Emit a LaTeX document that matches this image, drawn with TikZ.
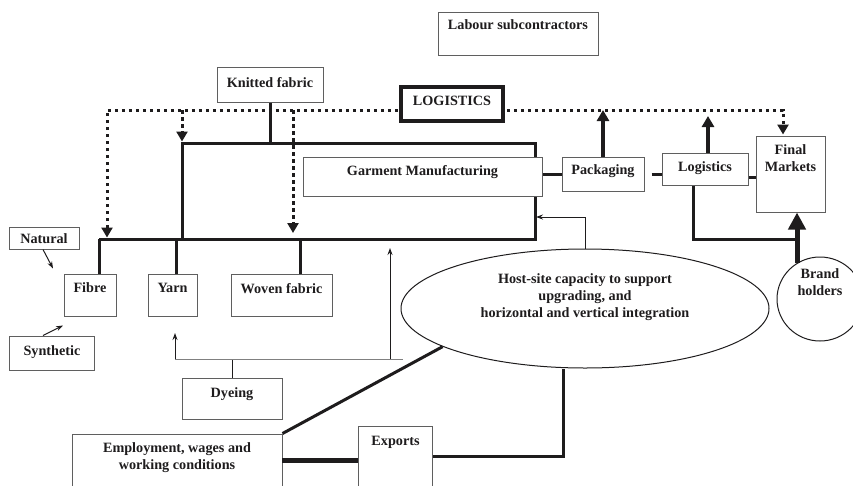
\documentclass[tikz,border=0pt]{standalone}
\usepackage{fontspec}
\setmainfont{Liberation Serif}
\usetikzlibrary{arrows.meta,shapes.geometric,calc}
\definecolor{boxgray}{RGB}{95,95,95}
\definecolor{ink}{RGB}{30,28,29}
\newcommand{\lbl}{\fontsize{14.2}{17}\selectfont\bfseries}
\newcommand{\tbox}[4]{\parbox[c][#2pt][t]{#1pt}{\centering\vspace*{#3pt}#4\par}}
\begin{document}
\begin{tikzpicture}[x=1pt,y=-1pt,
  box/.style={draw=boxgray, line width=1pt, fill=white, inner sep=0pt, font=\lbl, text=ink, align=center},
  oval/.style={ellipse, draw=ink, line width=1pt, fill=white, inner sep=0pt, font=\lbl, text=ink},
  frame/.style={line width=3pt, draw=ink},
  dotline/.style={line width=3pt, draw=ink, dash pattern=on 3.5pt off 3.5pt},
  dottip/.style={-{Triangle[width=11pt,length=10pt]}},
  thinline/.style={line width=1pt, draw=ink},
  thinarrow/.style={-{Stealth[width=5pt,length=7pt]}},
  bigarrow/.style={line width=3.5pt, draw=ink, -{Triangle[width=12pt,length=11pt]}},
  hugearrow/.style={line width=5pt, draw=ink, -{Triangle[width=17pt,length=17pt]}},
]
\useasboundingbox (0,0) rectangle (853,485);
\clip (0,0) rectangle (853,485);

% helper coordinates
\coordinate (dL) at (107,110);
\coordinate (dR) at (783,110);
\coordinate (d2) at (182,110);
\coordinate (d3) at (293,110);
\coordinate (fTL) at (182,143);
\coordinate (fTR) at (535,143);
\coordinate (fBL) at (99,239);
\coordinate (fBR) at (535,239);
\coordinate (fBM) at (182,239);
\coordinate (sY) at (176,239);
\coordinate (sW) at (300,239);
\coordinate (lt) at (708,116);
\coordinate (bB) at (797,263);
\coordinate (lb) at (693,239);
\coordinate (hc) at (585,217);
\coordinate (dyl) at (175,359);
\coordinate (dyr) at (403,359);
\coordinate (dym) at (390,359);
\coordinate (ya) at (175,333);
\coordinate (ha) at (390,248);
\coordinate (ee) at (282,460);
\coordinate (xe) at (563,456);

% boxes
\node[box] (lab) at (518,33.5) {\tbox{160}{43}{8}{Labour subcontractors}};
\node[box] (knit) at (270,84.5) {\tbox{106}{35}{10}{Knitted fabric}};
\node[box] (pack) at (603,174) {\tbox{82}{34}{8}{Packaging}};
\node[box] (logs) at (705,169) {\tbox{86}{32}{9}{Logistics}};
\node[box] (final) at (790.5,174) {\tbox{69}{76}{9}{Final\\Markets}};
\node[box] (fibre) at (90,295) {\tbox{52}{42}{9}{Fibre}};
\node[box] (yarn) at (172.5,295) {\tbox{49}{42}{9}{Yarn}};
\node[box] (woven) at (281.5,295) {\tbox{101}{42}{9}{Woven fabric}};
\node[box] (nat) at (44,238) {\tbox{70}{22}{7}{Natural}};
\node[box] (syn) at (52,353) {\tbox{85}{34}{10}{Synthetic}};
\node[box] (dye) at (232,398.5) {\tbox{100}{41}{10}{Dyeing}};
\node[box] (emp) at (177,467) {\tbox{210}{66}{9}{Employment, wages and\\working conditions}};
\node[box] (exp) at (395.5,463) {\tbox{74}{74}{10}{Exports}};
\node[oval, minimum width=368pt, minimum height=119pt] (host) at (585,308.5)
  {\raisebox{8pt}[0pt][0pt]{\begin{tabular}{@{}c@{}}Host-site capacity to support\\upgrading, and\\horizontal and vertical integration\end{tabular}}};
\node[oval, minimum width=86pt, minimum height=84pt] (brand) at (820,299)
  {\raisebox{12pt}[0pt][0pt]{\begin{tabular}{@{}c@{}}Brand\\holders\end{tabular}}};

% dotted logistics network
\draw[dotline, {Triangle[width=11pt,length=10pt]}-{Triangle[width=11pt,length=10pt]}, shorten <=1.5pt, shorten >=1pt]
  (dL |- fBL) -- (dL) -- (dR) -- (dR |- final.north);
\draw[dotline, dottip, shorten >=1.5pt] (d2) -- (fTL);
\draw[dotline, dottip, shorten >=6pt] (d3) -- (d3 |- fBL);

% production frame
\draw[frame] (fBL) -- (fBR) -- (fTR) -- (fTL) -- (fBM);
\draw[frame] (knit.south) -- (knit.south |- fTL);
\draw[frame] (fBL) -- (fBL |- fibre.north);
\draw[frame] (sY) -- (sY |- yarn.north);
\draw[frame] (sW) -- (sW |- woven.north);

\node[box] (garm) at (422.5,176.5) {\tbox{239}{39}{8}{Garment Manufacturing}};

% chain to markets
\draw[frame] (pack.west -| garm.east) -- (pack.west);
\draw[frame] ([xshift=7pt]pack.east) -- (pack.east -| logs.west);
\draw[frame] ([yshift=-8pt]logs.east) -- ([yshift=-8pt]logs.east -| final.west);
\draw[bigarrow] (pack.north) -- (pack.north |- dL);
\draw[bigarrow] (logs.north -| lt) -- (lt);
\draw[frame] (logs.south -| lb) -- (lb) -- (lb -| bB);
\draw[hugearrow] (bB) -- (bB |- final.south);

% host-site links
\draw[thinline, thinarrow, shorten >=1pt] (host.north) -- (hc) -- (hc -| fTR);
\draw[thinline] (dye.north) -- (dye.north |- dyl);
\draw[line width=1pt, draw=gray] (dyl) -- (dyr);
\draw[thinline, thinarrow] (dyl) -- (ya);
\draw[thinline, thinarrow] (dym) -- (ha);
\draw[frame] (emp.north east) -- (host.195);
\draw[line width=5pt, draw=ink] (ee) -- (ee -| exp.west);
\draw[frame] (exp.east |- xe) -- (xe) -- (xe |- host.south);

% fibre sources
\draw[thinline, thinarrow] ([xshift=-1pt]nat.south) -- ++(10,19);
\draw[thinline, thinarrow] ([xshift=-9pt]syn.north) -- ++(20,-10);

% logistics label on top of dotted line
\node[box, draw=ink, line width=3.5pt] (logbig) at (452,104) {\tbox{102}{34}{9}{LOGISTICS}};
\end{tikzpicture}
\end{document}
